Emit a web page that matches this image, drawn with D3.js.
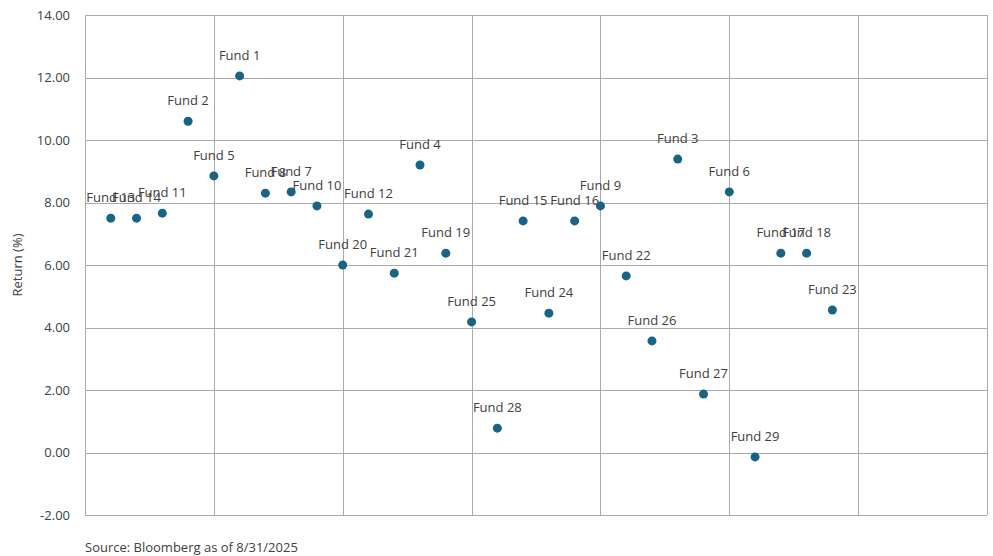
<!DOCTYPE html>
<html>
<head>
<meta charset="utf-8">
<script src="https://cdn.jsdelivr.net/npm/d3@7"></script>
<style>
  body { margin: 0; background: #fff; }
  svg text { font-family: "Open Sans", "Noto Sans", sans-serif; fill: #404040; }
</style>
</head>
<body>
<div id="chart"></div>
<script>
// funds in the order they sit along the x axis
const funds = ['Fund 13', 'Fund 14', 'Fund 11', 'Fund 2', 'Fund 5', 'Fund 1', 'Fund 8', 'Fund 7', 'Fund 10',
  'Fund 20', 'Fund 12', 'Fund 21', 'Fund 4', 'Fund 19', 'Fund 25', 'Fund 28', 'Fund 15', 'Fund 24', 'Fund 16',
  'Fund 9', 'Fund 22', 'Fund 26', 'Fund 3', 'Fund 27', 'Fund 6', 'Fund 29', 'Fund 17', 'Fund 18', 'Fund 23'];
const returns = [7.50, 7.50, 7.66, 10.60, 8.85, 12.05, 8.30, 8.34, 7.89,
  6.00, 7.63, 5.74, 9.20, 6.38, 4.18, 0.78, 7.41, 4.46, 7.41,
  7.89, 5.65, 3.57, 9.39, 1.87, 8.34, -0.14, 6.38, 6.38, 4.56];
const yTicks = [-2, 0, 2, 4, 6, 8, 10, 12, 14];
const xTicks = [0, 5, 10, 15, 20, 25, 30, 35];

const width = 993, height = 556;
const margin = { top: 15, right: 6, bottom: 41, left: 85 };

const svg = d3.select('#chart').append('svg')
  .attr('width', width)
  .attr('height', height);

const x = d3.scaleLinear().domain([0, 35]).range([margin.left, width - margin.right]);
const y = d3.scaleLinear().domain([-2, 14]).range([height - margin.bottom, margin.top]);

// grid
svg.append('g')
  .selectAll('line.h')
  .data(yTicks)
  .enter().append('line')
  .attr('x1', x(0)).attr('x2', x(35))
  .attr('y1', d => Math.round(y(d)) + 0.5).attr('y2', d => Math.round(y(d)) + 0.5)
  .attr('stroke', '#aaaaaa');

svg.append('g')
  .selectAll('line.v')
  .data(xTicks)
  .enter().append('line')
  .attr('y1', y(-2)).attr('y2', y(14))
  .attr('x1', d => Math.round(x(d)) + 0.5).attr('x2', d => Math.round(x(d)) + 0.5)
  .attr('stroke', '#aaaaaa');

// y axis labels (plain hyphen for negatives, like the original)
const fmt = d => d.toFixed(2);
const yAxis = svg.append('g')
  .attr('transform', `translate(${margin.left},0)`)
  .call(d3.axisLeft(y).tickValues(yTicks).tickFormat(fmt).tickSize(0).tickPadding(15));
yAxis.select('.domain').remove();
yAxis.selectAll('text').attr('font-size', 13).style('fill', '#404040');

svg.append('text')
  .attr('transform', `translate(22,${(y(14) + y(-2)) / 2}) rotate(-90)`)
  .attr('text-anchor', 'middle')
  .attr('font-size', 13)
  .text('Return (%)');

// points
const pts = svg.append('g')
  .selectAll('g')
  .data(funds.map((f, i) => ({ name: f, idx: i + 1, val: returns[i] })))
  .enter().append('g');

pts.append('circle')
  .attr('cx', d => x(d.idx))
  .attr('cy', d => y(d.val))
  .attr('r', 4.5)
  .attr('fill', '#186386');

pts.append('text')
  .attr('x', d => x(d.idx))
  .attr('y', d => y(d.val) - 16)
  .attr('text-anchor', 'middle')
  .attr('font-size', 13)
  .text(d => d.name);

svg.append('text')
  .attr('x', margin.left)
  .attr('y', 552)
  .attr('font-size', 13)
  .text('Source: Bloomberg as of 8/31/2025');
</script>
</body>
</html>
